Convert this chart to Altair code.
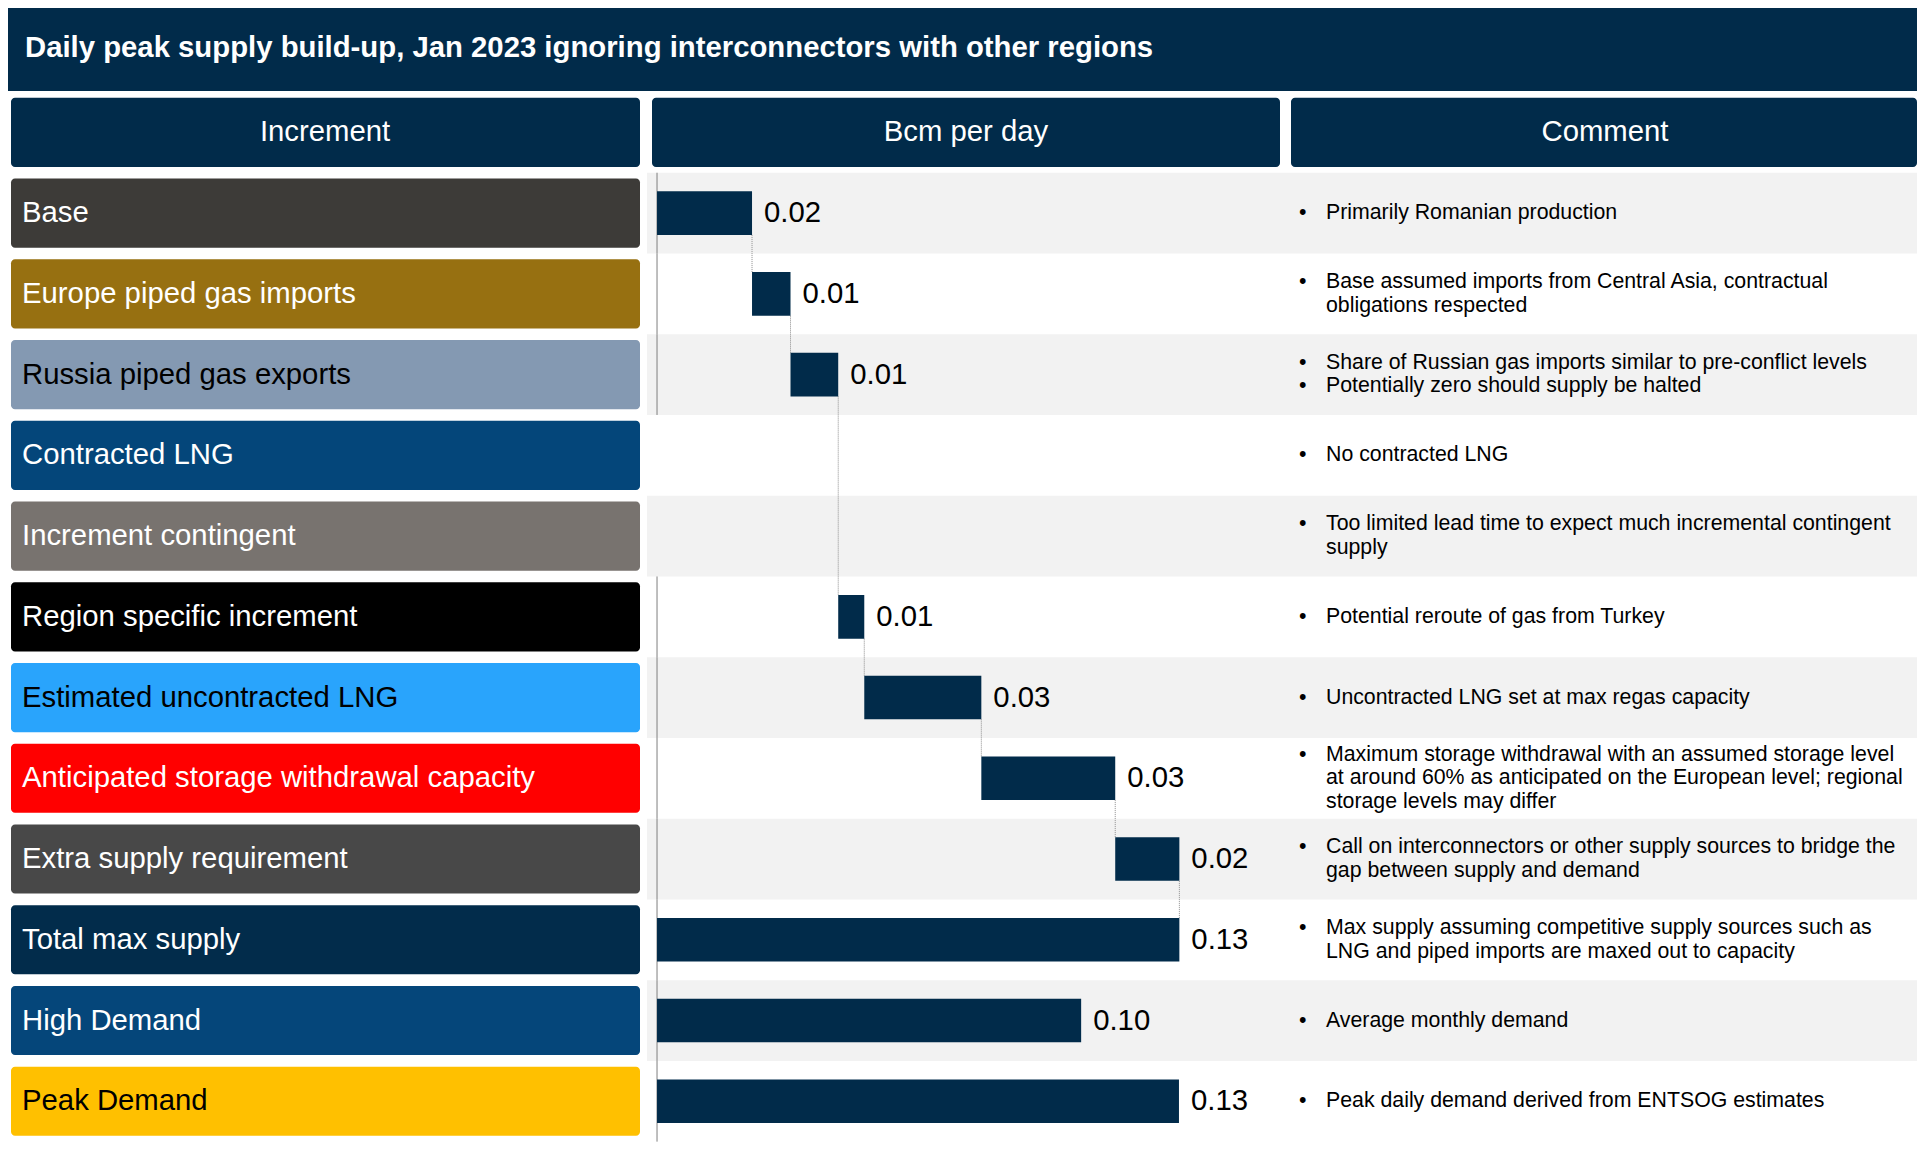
import altair as alt
import pandas as pd

# ---------------- data ----------------
title_text = "Daily peak supply build-up, Jan 2023 ignoring interconnectors with other regions"
headers = ["Increment", "Bcm per day", "Comment"]

categories = [
    "Base",
    "Europe piped gas imports",
    "Russia piped gas exports",
    "Contracted LNG",
    "Increment contingent",
    "Region specific increment",
    "Estimated uncontracted LNG",
    "Anticipated storage withdrawal capacity",
    "Extra supply requirement",
    "Total max supply",
    "High Demand",
    "Peak Demand",
]
# waterfall increments (Bcm per day), first nine rows
increments = [0.0237, 0.0096, 0.0119, 0.0, 0.0, 0.0065, 0.0292, 0.0334, 0.0160]
# totals drawn from zero: Total max supply, High Demand, Peak Demand
total_values = [0.1303, 0.1058, 0.1302]
value_labels = ["0.02", "0.01", "0.01", "", "", "0.01", "0.03", "0.03", "0.02", "0.13", "0.10", "0.13"]

box_colors = ["#3d3b38", "#977011", "#8499b2", "#04467a", "#78736f", "#000000",
              "#29a4fc", "#ff0000", "#484848", "#022c4b", "#05467a", "#ffc000"]
text_colors = ["#ffffff", "#ffffff", "#000000", "#ffffff", "#ffffff", "#ffffff",
               "#000000", "#ffffff", "#ffffff", "#ffffff", "#ffffff", "#000000"]

comments = [
    [["Primarily Romanian production"]],
    [["Base assumed imports from Central Asia, contractual", "obligations respected"]],
    [["Share of Russian gas imports similar to pre-conflict levels"],
     ["Potentially zero should supply be halted"]],
    [["No contracted LNG"]],
    [["Too limited lead time to expect much incremental contingent", "supply"]],
    [["Potential reroute of gas from Turkey"]],
    [["Uncontracted LNG set at max regas capacity"]],
    [["Maximum storage withdrawal with an assumed storage level",
      "at around 60% as anticipated on the European level; regional",
      "storage levels may differ"]],
    [["Call on interconnectors or other supply sources to bridge the",
      "gap between supply and demand"]],
    [["Max supply assuming competitive supply sources such as",
      "LNG and piped imports are maxed out to capacity"]],
    [["Average monthly demand"]],
    [["Peak daily demand derived from ENTSOG estimates"]],
]

# ---------------- layout constants ----------------
NAVY = "#012b4a"
BAND = "#f2f2f2"
FONT = "Liberation Sans"
BIG = 29.3
SMALL = 21.3
LH = 23.5
W_L, W_B, W_C = 639, 639, 631
H = 1044
TITLE_H = 83
Y_MAX = 12.43
STEP = H / (Y_MAX + 0.5)
BOX = 0.428   # half height of label boxes (row units)
BAR = 0.27    # half height of bars (row units)

# ---------------- derived tables ----------------
rows = list(range(1, len(categories) + 1))
starts, ends = [], []
acc = 0.0
for v in increments:
    starts.append(acc)
    acc += v
    ends.append(acc)
for v in total_values:
    starts.append(0.0)
    ends.append(v)

df = pd.DataFrame({
    "row": rows,
    "category": categories,
    "start": starts,
    "end": ends,
    "label": value_labels,
    "box_color": box_colors,
    "text_color": text_colors,
})
df["zero"] = 0.0
df["box_top"] = df["row"] - BOX
df["box_bot"] = df["row"] + BOX
df["bar_top"] = df["row"] - BAR
df["bar_bot"] = df["row"] + BAR
df["band_top"] = df["row"] - 0.5
df["band_bot"] = df["row"] + 0.5
df["lines"] = [[ln for item in c for ln in item] for c in comments]
df["bullets"] = [[("•" if j == 0 else " ") for item in c for j, _ in enumerate(item)] for c in comments]
df["nlines"] = [len(l) for l in df["lines"]]
# first-line position so that the block of lines is centred on the row
df["text_y"] = df["row"] - (df["nlines"] - 1) * LH / (2 * STEP)

bars_df = df[df["end"] > df["start"]].copy()
shaded_df = df[df["row"] % 2 == 1].copy()

pts = [(r, e) for r, s, e in zip(rows[:10], starts[:10], ends[:10]) if e > s]
conn_df = pd.DataFrame({
    "x": [p[1] for p in pts[:-1]],
    "y0": [p[0] + BAR for p in pts[:-1]],
    "y1": [q[0] - BAR for q in pts[1:]],
})

hdr_df = pd.DataFrame({"row": [0], "top": [-BOX], "bot": [BOX]})

YS = alt.Scale(domain=[-0.5, Y_MAX], reverse=True, nice=False, zero=False)
XS = alt.Scale(domain=[-0.0025, 0.1569], nice=False, zero=False)


def header_layer(text, x0, x1, xc):
    base = alt.Chart(hdr_df.assign(h=text))
    box = base.mark_rect(color=NAVY, cornerRadius=4).encode(
        x=alt.value(x0), x2=alt.value(x1),
        y=alt.Y("top:Q", scale=YS, axis=None), y2="bot:Q")
    txt = base.mark_text(font=FONT, fontSize=BIG, color="white", align="center",
                         baseline="middle").encode(
        x=alt.value(xc), y=alt.Y("row:Q", scale=YS, axis=None), text="h:N")
    return box + txt


# ---------------- title bar ----------------
TW = W_L + W_B + W_C
title_chart = alt.layer(
    alt.Chart(pd.DataFrame({"t": [title_text]})).mark_rect(color=NAVY).encode(
        x=alt.value(0), x2=alt.value(TW), y=alt.value(0), y2=alt.value(TITLE_H)),
    alt.Chart(pd.DataFrame({"t": [title_text]})).mark_text(
        font=FONT, fontSize=BIG, fontWeight="bold", color="white", align="left",
        baseline="middle").encode(x=alt.value(17), y=alt.value(TITLE_H / 2 - 2), text="t:N"),
).properties(width=TW, height=TITLE_H)

# ---------------- increment column ----------------
label_boxes = alt.Chart(df).mark_rect(cornerRadius=4).encode(
    x=alt.value(3), x2=alt.value(632),
    y=alt.Y("box_top:Q", scale=YS, axis=None), y2="box_bot:Q",
    color=alt.Color("box_color:N", scale=None))
label_text = alt.Chart(df).mark_text(font=FONT, fontSize=BIG, align="left",
                                     baseline="middle").encode(
    x=alt.value(14), y=alt.Y("row:Q", scale=YS, axis=None), text="category:N",
    color=alt.Color("text_color:N", scale=None))
inc_panel = alt.layer(header_layer(headers[0], 3, 632, 317), label_boxes, label_text
                      ).properties(width=W_L, height=H)

# ---------------- bar column ----------------
bands_b = alt.Chart(shaded_df).mark_rect(color=BAND).encode(
    x=alt.value(0), x2=alt.value(W_B),
    y=alt.Y("band_top:Q", scale=YS, axis=None), y2="band_bot:Q")
axis_rules = alt.Chart(bars_df).mark_rule(color="#7f7f7f", strokeWidth=1).encode(
    x=alt.X("zero:Q", scale=XS, axis=None),
    y=alt.Y("band_top:Q", scale=YS, axis=None), y2="band_bot:Q")
connectors = alt.Chart(conn_df).mark_rule(color="#8c8c8c", strokeWidth=1,
                                          strokeDash=[1, 1]).encode(
    x=alt.X("x:Q", scale=XS, axis=None),
    y=alt.Y("y0:Q", scale=YS, axis=None), y2="y1:Q")
bars = alt.Chart(bars_df).mark_rect(color=NAVY).encode(
    x=alt.X("start:Q", scale=XS, axis=None), x2="end:Q",
    y=alt.Y("bar_top:Q", scale=YS, axis=None), y2="bar_bot:Q")
value_text = alt.Chart(bars_df).mark_text(font=FONT, fontSize=BIG, color="black",
                                          align="left", baseline="middle", dx=12).encode(
    x=alt.X("end:Q", scale=XS, axis=None),
    y=alt.Y("row:Q", scale=YS, axis=None), text="label:N")
bar_panel = alt.layer(bands_b, header_layer(headers[1], 5, 633, 319), axis_rules,
                      connectors, bars, value_text).properties(width=W_B, height=H)

# ---------------- comment column ----------------
bands_c = alt.Chart(shaded_df).mark_rect(color=BAND).encode(
    x=alt.value(0), x2=alt.value(W_C),
    y=alt.Y("band_top:Q", scale=YS, axis=None), y2="band_bot:Q")
bullet_text = alt.Chart(df).mark_text(font=FONT, fontSize=SMALL, lineHeight=LH,
                                      color="black", align="left", baseline="middle").encode(
    x=alt.value(13), y=alt.Y("text_y:Q", scale=YS, axis=None), text="bullets")
comment_text = alt.Chart(df).mark_text(font=FONT, fontSize=SMALL, lineHeight=LH,
                                       color="black", align="left", baseline="middle").encode(
    x=alt.value(40), y=alt.Y("text_y:Q", scale=YS, axis=None), text="lines")
comment_panel = alt.layer(bands_c, header_layer(headers[2], 5, W_C, 319),
                          bullet_text, comment_text).properties(width=W_C, height=H)

body = alt.hconcat(inc_panel, bar_panel, comment_panel, spacing=0)

chart = alt.vconcat(title_chart, body, spacing=1).properties(
    padding=0, background="white"
).configure_view(stroke=None)

chart.save("out.html", embed_options={"renderer": "svg", "actions": False})
